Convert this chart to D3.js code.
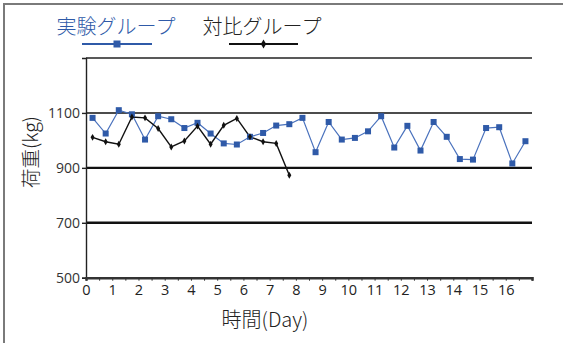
<!DOCTYPE html>
<html><head><meta charset="utf-8">
<script src="https://cdn.jsdelivr.net/npm/d3@7"></script>
<style>
html,body{margin:0;padding:0;background:#fff;}
svg{display:block;font-family:"Noto Sans CJK JP","Noto Sans",sans-serif;}
</style></head>
<body><svg id="c" width="563" height="343"></svg>
<script>
const seriesNames = ["実験グループ", "対比グループ"];
const expDays = d3.range(34).map(i => 0.25 + 0.5 * i);
const expValues = [1082,1025,1110,1095,1003,1088,1077,1045,1064,1025,989,985,1013,1027,1054,1059,1082,957,
                   1067,1003,1009,1033,1088,974,1053,963,1067,1013,932,930,1045,1048,916,997];
const ctlDays = d3.range(16).map(i => 0.25 + 0.5 * i);
const ctlValues = [1011,995,986,1085,1082,1043,976,998,1052,986,1055,1080,1013,995,989,873];
const yTicks = [500,700,900,1100];
const xTicks = d3.range(0,17);
const xTitle = "時間(Day)";
const yTitle = "荷重(kg)";

const svg = d3.select("#c");
const L = 86, R = 532, T = 58, B = 277.7;
const x = d3.scaleLinear().domain([0,17]).range([L,R]);
const y = d3.scaleLinear().domain([500,1300]).range([B,T]);
const blue = "#2f5aa8";

// outer frame
svg.append("rect").attr("x",4).attr("y",4).attr("width",620).attr("height",400)
  .attr("fill","none").attr("stroke","#7a7a7a").attr("stroke-width",2);

// top border of plot
svg.append("line").attr("x1",L).attr("x2",R).attr("y1",T).attr("y2",T)
  .attr("stroke","#222").attr("stroke-width",1.3);

// gridlines
svg.append("g").selectAll("line").data([700,900,1100]).join("line")
  .attr("x1",L).attr("x2",R).attr("y1",d=>y(d)).attr("y2",d=>y(d))
  .attr("stroke","#111").attr("stroke-width",d=>d===1100?1.4:2.4);

// y axis
const ya = svg.append("g").attr("transform",`translate(${L},0)`)
  .call(d3.axisLeft(y).tickValues(yTicks).tickSize(4).tickPadding(2).tickFormat(d3.format("d")));
ya.select(".domain").attr("stroke","#222").attr("stroke-width",1.4);
ya.selectAll(".tick line").attr("stroke","#222").attr("stroke-width",1.4);
ya.selectAll("text").attr("font-size",14).attr("fill","#333")
  .attr("font-family","'Open Sans','Noto Sans',sans-serif");

// x axis
const xa = svg.append("g").attr("transform",`translate(0,${B})`)
  .call(d3.axisBottom(x).tickValues(d3.range(0,17.01,0.5)).tickSize(3).tickPadding(4)
    .tickFormat(d => Number.isInteger(d) && d <= 16 ? d : ""));
xa.select(".domain").attr("stroke","#333").attr("stroke-width",2.6);
xa.selectAll(".tick line").attr("stroke","#333").attr("stroke-width",1);
xa.selectAll("text").attr("font-size",14.5).attr("fill","#222")
  .attr("font-family","'Open Sans','Noto Sans',sans-serif");

// titles
svg.append("text").attr("x",265).attr("y",327).attr("text-anchor","middle")
  .attr("font-size",20).attr("font-weight",300).attr("fill","#222").text(xTitle);
svg.append("text").attr("transform","translate(38,152) rotate(-90)").attr("text-anchor","middle")
  .attr("font-size",19.5).attr("font-weight",300).attr("fill","#222").text(yTitle);

// lines
const line = d3.line().x(d=>x(d[0])).y(d=>y(d[1]));
const expData = expDays.map((d,i)=>[d,expValues[i]]);
const ctlData = ctlDays.map((d,i)=>[d,ctlValues[i]]);

svg.append("path").datum(expData).attr("d",line).attr("fill","none")
  .attr("stroke","#4a72bd").attr("stroke-width",1.2);
svg.append("path").datum(ctlData).attr("d",line).attr("fill","none")
  .attr("stroke","#111").attr("stroke-width",1.4);

svg.append("g").selectAll("rect").data(expData).join("rect")
  .attr("x",d=>x(d[0])-3).attr("y",d=>y(d[1])-3).attr("width",6).attr("height",6)
  .attr("fill",blue);
svg.append("g").selectAll("path").data(ctlData).join("path")
  .attr("transform",d=>`translate(${x(d[0])},${y(d[1])})`)
  .attr("d",d3.symbol(d3.symbolDiamond,14)()).attr("fill","#111");

// legend
const leg = [
  {name:seriesNames[0], tx:116, lx1:82, lx2:152, color:blue, text:"#2f5aa8", sym:"sq"},
  {name:seriesNames[1], tx:262, lx1:229, lx2:298, color:"#111", text:"#222", sym:"di"}
];
leg.forEach(l=>{
  svg.append("text").attr("x",l.tx).attr("y",34).attr("text-anchor","middle")
    .attr("font-size",20).attr("font-weight",300).attr("fill",l.text).text(l.name);
  svg.append("line").attr("x1",l.lx1).attr("x2",l.lx2).attr("y1",44).attr("y2",44)
    .attr("stroke",l.color).attr("stroke-width",2);
  const cx=(l.lx1+l.lx2)/2;
  if(l.sym==="sq") svg.append("rect").attr("x",cx-3.5).attr("y",40.5).attr("width",7).attr("height",7).attr("fill",l.color);
  else svg.append("path").attr("transform",`translate(${cx},44)`).attr("d",d3.symbol(d3.symbolDiamond,24)()).attr("fill",l.color);
});
</script></body></html>
